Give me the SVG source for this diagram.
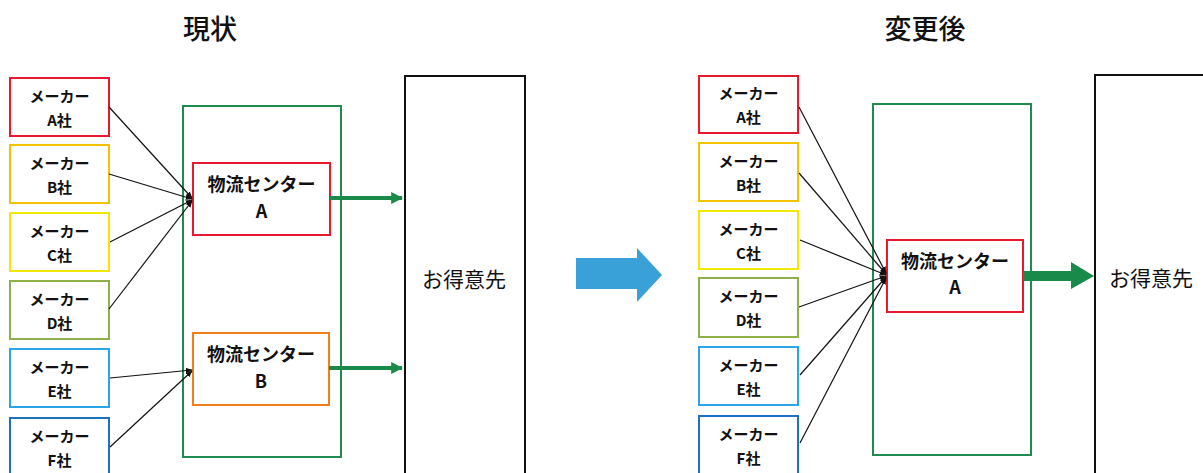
<svg xmlns="http://www.w3.org/2000/svg" width="1203" height="473" viewBox="0 0 1203 473">
<style>
text{font-family:"Noto Sans CJK JP","Noto Sans",sans-serif;fill:#111;text-anchor:middle}
.mk{font-size:15px;font-weight:bold}
.ct{font-size:18px;font-weight:bold}
.cu{font-size:21px}
.tt{font-size:27px;font-weight:500}
.box{fill:#fff;stroke-width:2}
.cont{fill:none;stroke:#1e8c4e;stroke-width:2}
.cust{fill:#fff;stroke:#111;stroke-width:2}
.ln{stroke:#111;stroke-width:1.2;fill:none}
.ga{stroke:#1a8a4a;stroke-width:4;fill:none}
</style>
<defs>
<marker id="ah" viewBox="0 0 10 10" refX="9" refY="5" markerWidth="7" markerHeight="7" markerUnits="userSpaceOnUse" orient="auto"><path d="M0,1 L10,5 L0,9 z" fill="#111"/></marker>
<marker id="gh" viewBox="0 0 10 10" refX="9" refY="5" markerWidth="3" markerHeight="3" orient="auto"><path d="M0,0 L10,5 L0,10 z" fill="#1a8a4a"/></marker>
</defs>
<text class="tt" x="210" y="39">現状</text>
<text class="tt" x="925" y="39">変更後</text>

<!-- left panel -->
<g id="L-container"><rect class="cont" x="183" y="106" width="158" height="351"/></g>
<g id="L-makerA"><rect class="box" stroke="#e8192c" x="10" y="78" width="99" height="58"/><text class="mk" x="59.5" y="102">メーカー</text><text class="mk" x="59.5" y="126">A社</text></g>
<g id="L-makerB"><rect class="box" stroke="#f2c200" x="10" y="145" width="99" height="58"/><text class="mk" x="59.5" y="169">メーカー</text><text class="mk" x="59.5" y="193">B社</text></g>
<g id="L-makerC"><rect class="box" stroke="#f3e600" x="10" y="213" width="99" height="58"/><text class="mk" x="59.5" y="237">メーカー</text><text class="mk" x="59.5" y="261">C社</text></g>
<g id="L-makerD"><rect class="box" stroke="#8db04a" x="10" y="281" width="99" height="58"/><text class="mk" x="59.5" y="305">メーカー</text><text class="mk" x="59.5" y="329">D社</text></g>
<g id="L-makerE"><rect class="box" stroke="#2aa5ea" x="10" y="349" width="99" height="58"/><text class="mk" x="59.5" y="373">メーカー</text><text class="mk" x="59.5" y="397">E社</text></g>
<g id="L-makerF"><rect class="box" stroke="#1f6fc4" x="10" y="418" width="99" height="60"/><text class="mk" x="59.5" y="442">メーカー</text><text class="mk" x="59.5" y="466">F社</text></g>
<g id="L-centerA"><rect class="box" stroke="#e8192c" x="193" y="163" width="137" height="72"/><text class="ct" x="261.5" y="191">物流センター</text><text class="ct" x="261.5" y="218">A</text></g>
<g id="L-centerB"><rect class="box" stroke="#f07f1a" x="193" y="333" width="136" height="72"/><text class="ct" x="261" y="361">物流センター</text><text class="ct" x="261" y="388">B</text></g>
<g id="L-customer"><rect class="cust" x="405" y="76" width="120" height="410"/><text class="cu" x="464" y="287">お得意先</text></g>

<!-- right panel -->
<g id="R-container"><rect class="cont" x="873" y="104" width="158" height="351"/></g>
<g id="R-makerA"><rect class="box" stroke="#e8192c" x="699" y="76" width="99" height="57"/><text class="mk" x="748.5" y="99">メーカー</text><text class="mk" x="748.5" y="123">A社</text></g>
<g id="R-makerB"><rect class="box" stroke="#f2c200" x="699" y="143" width="99" height="58"/><text class="mk" x="748.5" y="167">メーカー</text><text class="mk" x="748.5" y="191">B社</text></g>
<g id="R-makerC"><rect class="box" stroke="#f3e600" x="699" y="211" width="99" height="58"/><text class="mk" x="748.5" y="235">メーカー</text><text class="mk" x="748.5" y="259">C社</text></g>
<g id="R-makerD"><rect class="box" stroke="#8db04a" x="699" y="278" width="99" height="59"/><text class="mk" x="748.5" y="302">メーカー</text><text class="mk" x="748.5" y="326">D社</text></g>
<g id="R-makerE"><rect class="box" stroke="#2aa5ea" x="699" y="347" width="99" height="58"/><text class="mk" x="748.5" y="371">メーカー</text><text class="mk" x="748.5" y="395">E社</text></g>
<g id="R-makerF"><rect class="box" stroke="#1f6fc4" x="699" y="416" width="99" height="62"/><text class="mk" x="748.5" y="440">メーカー</text><text class="mk" x="748.5" y="464">F社</text></g>
<g id="R-centerA"><rect class="box" stroke="#e8192c" x="887" y="240" width="136" height="72"/><text class="ct" x="955" y="268">物流センター</text><text class="ct" x="955" y="294">A</text></g>
<g id="R-customer"><rect class="cust" x="1095" y="75" width="120" height="410"/><text class="cu" x="1151" y="286">お得意先</text></g>

<!-- transition arrow -->
<g id="transition"><path d="M576,258 L637,258 L637,248 L662,275 L637,302 L637,289 L576,289 z" fill="#3aa0d8"/></g>

<g id="connectors">
<line class="ln" marker-end="url(#ah)" x1="109" y1="107" x2="192" y2="198"/>
<line class="ln" marker-end="url(#ah)" x1="109" y1="174" x2="192" y2="199"/>
<line class="ln" marker-end="url(#ah)" x1="110" y1="242" x2="192" y2="200"/>
<line class="ln" marker-end="url(#ah)" x1="109" y1="309" x2="192" y2="201"/>
<line class="ln" marker-end="url(#ah)" x1="110" y1="378" x2="192" y2="370"/>
<line class="ln" marker-end="url(#ah)" x1="110" y1="447" x2="192" y2="371"/>
<line class="ga" marker-end="url(#gh)" x1="330" y1="198" x2="402" y2="198"/>
<line class="ga" marker-end="url(#gh)" x1="329" y1="368" x2="402" y2="368"/>
<line class="ln" marker-end="url(#ah)" x1="799" y1="107" x2="886" y2="273"/>
<line class="ln" marker-end="url(#ah)" x1="799" y1="173" x2="886" y2="274"/>
<line class="ln" marker-end="url(#ah)" x1="800" y1="240" x2="886" y2="275"/>
<line class="ln" marker-end="url(#ah)" x1="799" y1="307" x2="886" y2="276"/>
<line class="ln" marker-end="url(#ah)" x1="800" y1="375" x2="886" y2="277"/>
<line class="ln" marker-end="url(#ah)" x1="800" y1="443" x2="886" y2="278"/>
<path d="M1023,271 L1071,271 L1071,262 L1094,276 L1071,289 L1071,281 L1023,281 z" fill="#1a8a4a"/>
</g>
</svg>
